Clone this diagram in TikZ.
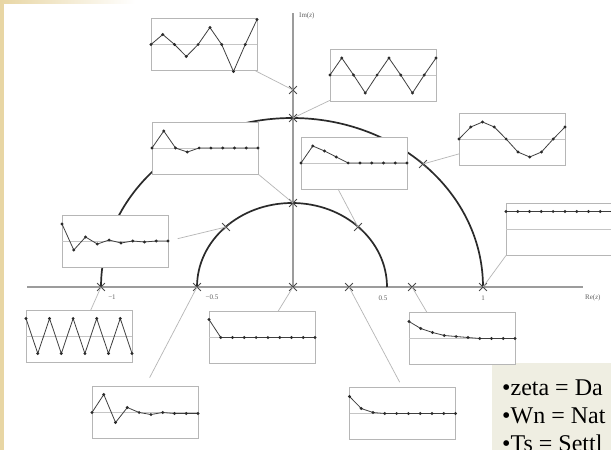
\documentclass[tikz,border=0pt]{standalone}
\usepackage{fontspec}
\setmainfont{Liberation Serif}
\usepackage{tikz}
\usetikzlibrary{shapes.misc,calc}
\definecolor{tan}{HTML}{E8D6A4}
\definecolor{note}{HTML}{EFEEE2}
\definecolor{ink}{HTML}{2A2A2A}
\definecolor{frame}{HTML}{B6B6B6}
\definecolor{rule}{HTML}{9C9C9C}
\newcommand{\sampgap}{11.78}
% #1 box, #2 first sample, #3 the other nine (px above the zero line)
\newcommand{\samples}[3]{%
  \draw[zero] (#1.west) -- (#1.east);
  \draw[trace] ($(#1.west)+(0,{-(#2)})$) \foreach \v [count=\k] in {#3} { -- ($(#1.west)+({\k*\sampgap},{-(\v)})$) };
  \foreach \v [count=\k from 0] in {#2,#3} \fill[ink] ($(#1.west)+({\k*\sampgap},{-(\v)})$) circle (1.6pt);
}
\tikzset{
  resp/.style={draw=frame, fill=white, line width=0.8pt, minimum width=106pt, minimum height=52pt,
               inner sep=0pt, outer sep=0pt},
  zero/.style={draw=frame!80, line width=0.6pt},
  trace/.style={draw=ink!90, line width=0.8pt},
  pole/.style={cross out, draw=ink!85, line width=0.8pt, minimum size=7pt, inner sep=0pt},
  lead/.style={draw=frame, line width=0.7pt},
  axis/.style={draw=rule, line width=1.1pt},
  locus/.style={draw=ink, line width=1.7pt},
  lbl/.style={font=\fontsize{7}{8}\selectfont, text=ink!75, inner sep=0pt},
  notetxt/.style={font=\fontsize{24}{28}\selectfont, text=black, inner sep=0pt, anchor=base west},
}
\begin{document}
\begin{tikzpicture}[x=1pt,y=-1pt]
\useasboundingbox (0,0) rectangle (611,450);
\clip (0,0) rectangle (611,450);
\fill[white] (0,0) rectangle (611,450);
\fill[tan] (0,0) rectangle (4,450);
\shade[left color=tan, right color=white] (0,0) rectangle (135,3);
\fill[note] (492,363) rectangle (611,450);

% axes and the two loci
\draw[axis] (27,287) -- (583,287);
\draw[axis] (293,287) -- (293,13);
\draw[locus] (101,287) arc[start angle=180, end angle=0, x radius=191pt, y radius=169pt];
\draw[locus] (197,287) arc[start angle=180, end angle=0, x radius=95pt, y radius=84pt];

% step responses
\node[resp] (bA) at (204,44.5) {};  \samples{bA}{0}{10,0,-12,0,17,0,-27,0,25}
\node[resp] (bB) at (383,75)   {};  \samples{bB}{0}{17,0,-18,0,17,0,-18,0,17}
\node[resp] (bC) at (512,139)  {};  \samples{bC}{0}{12,17,12,0,-13,-18,-13,0,12}
\node[resp] (bD) at (354,163)  {};  \samples{bD}{0}{17,12,6,0,0,0,0,0,0}
\node[resp] (bE) at (205,148)  {};  \samples{bE}{0}{17,0,-4,0,0,0,0,0,0}
\node[resp] (bF) at (115,241)  {};  \samples{bF}{17}{-9,4,-3,1,-2,0,-1,0,0}
\node[resp] (bG) at (559,229.5){};  \samples{bG}{18}{18,18,18,18,18,18,18,18,18}
\node[resp] (bH) at (79,336.5) {};  \samples{bH}{18}{-17,18,-17,18,-17,18,-17,18,-17}
\node[resp] (bI) at (145,412.5){};  \samples{bI}{0}{18,-10,5,0,-2,0,-1,-1,-1}
\node[resp] (bJ) at (262,337.5){};  \samples{bJ}{18}{0,0,0,0,0,0,0,0,0}
\node[resp] (bK) at (462,338.5){};  \samples{bK}{17}{10,6,3,2,1,0,0,0,0}
\node[resp] (bL) at (402.5,413.5){};\samples{bL}{17}{5,1,0,0,0,0,0,0,0}

% poles
\node[pole] (pUp)        at (293,90)  {};
\node[pole] (pImOne)     at (293,118) {};
\node[pole] (pImHalf)    at (293,203) {};
\node[pole] (pOut45)     at (423,164) {};
\node[pole] (pIn45)      at (358,227) {};
\node[pole] (pIn135)     at (226,227) {};
\node[pole] (pMinusOne)  at (101,287) {};
\node[pole] (pMinusHalf) at (197,287) {};
\node[pole] (pZero)      at (293,287) {};
\node[pole] (pReA)       at (349,287) {};
\node[pole] (pReB)       at (412,287) {};
\node[pole] (pOne)       at (483,287) {};

\draw[lead] (bA) -- (pUp.center);
\draw[lead] (bB) -- (pImOne.center);
\draw[lead] (bC) -- (pOut45.center);
\draw[lead] ($(bD.south)+(-16,0)$) -- (pIn45.center);
\draw[lead] (bE.south east) -- (pImHalf.center);
\draw[lead, shorten <=10pt] (bF.east) -- (pIn135.center);
\draw[lead] (bG.south west) -- (pOne.center);
\draw[lead] (bH) -- (pMinusOne.center);
\draw[lead, shorten <=10pt] (bI.north) -- (pMinusHalf.center);
\draw[lead] (bJ) -- (pZero.center);
\draw[lead] ($(bK.north west)+(18,0)$) -- (pReB.center);
\draw[lead, shorten <=6pt] (bL.north) -- (pReA.center);

% axis labels
\node[lbl, anchor=west] (imLbl) at (299,16) {Im(\textit{z})};
\node[lbl, anchor=west] (reLbl) at (585,298) {Re(\textit{z})};
\node[lbl] (tMinusOne)  at (112,297) {−1};
\node[lbl] (tMinusHalf) at (212,297) {−0.5};
\node[lbl] (tHalf)      at (383,298) {0.5};
\node[lbl] (tOne)       at (483,298) {1};

% legend panel
\node[notetxt] (zeta) at (502,395) {•zeta = Da};
\node[notetxt] (wn)   at (502,423) {•Wn = Nat};
\node[notetxt] (ts)   at (502,451) {•Ts = Settl};
\end{tikzpicture}
\end{document}
